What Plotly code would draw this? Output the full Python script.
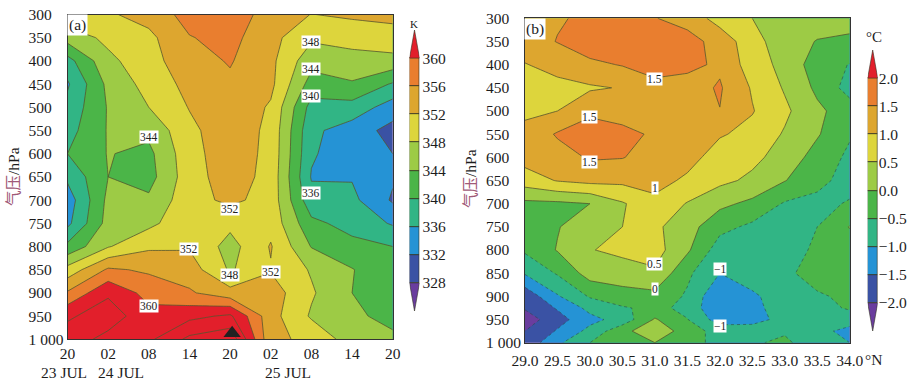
import plotly.graph_objects as go

W, H = 914, 383
SERIF = "Liberation Serif"
LINE = "#55552f"

# ---- panel (a): potential temperature, K, by time column
a_times = [0, 1, 2, 3, 4, 5, 6, 7, 8]
a_time_labels = ["20", "02", "08", "14", "20", "02", "08", "14", "20"]
a_pressure = [300, 350, 400, 450, 500, 550, 600, 650, 700, 750, 800, 850, 900, 950, 1000]
a_t0 = [351, 345.7, 338.5, 335.5, 337.2, 338.5, 340, 336.8, 333.8, 335, 341, 349.5, 356.5, 363.4, 366]
a_t1 = [351.5, 349, 347, 345, 344.3, 344.3, 344.2, 344, 345, 345.5, 347.7, 356.6, 363.4, 366, 362.8]
a_t2 = [353.5, 351, 350.5, 349.5, 348, 345, 343, 342.5, 344.7, 347, 351.3, 355.4, 358.5, 361.5, 363.2]
a_t3 = [357.5, 355.8, 354.5, 353.2, 352.2, 351, 350.6, 350.3, 350.5, 350.8, 351.6, 354, 356.5, 362.9, 369]
a_t4 = [358, 357.2, 356.3, 355.3, 355, 354.6, 354.3, 354, 352.9, 349, 346.5, 347.5, 353.5, 364.7, 371]
a_t5 = [354.5, 353.3, 353, 353, 351.5, 351, 350.9, 350.7, 350.5, 350.7, 352.3, 351.7, 354, 353.5, 353]
a_t6 = [351.9, 348.7, 345.4, 342.3, 338.5, 336.9, 336.5, 335.7, 337.3, 341, 343.8, 347.6, 348.5, 347.5, 351]
a_t7 = [352.8, 349, 347, 343.5, 338.5, 334, 333.4, 335.7, 337, 338.5, 341.2, 344.2, 344, 344.85, 346.1]
a_t8 = [353, 350.5, 346.7, 339.6, 334, 330.7, 332, 332.5, 331.5, 335.6, 340, 341, 342, 342.7, 344.9]
a_levels = [328, 332, 336, 340, 344, 348, 352, 356, 360]
a_labels = [("344", 2, 565), ("348", 6, 359), ("344", 6, 418), ("340", 6, 476), ("336", 6, 684),
            ("352", 4, 720), ("352", 3, 806), ("348", 4, 862), ("352", 5, 855), ("360", 2, 928)]

# ---- panel (b): temperature anomaly, deg C, by latitude column
b_lat = [29.0, 29.5, 30.0, 30.5, 31.0, 31.5, 32.0, 32.5, 33.0, 33.5, 34.0]
b_pressure = [300, 350, 400, 450, 500, 550, 600, 650, 700, 750, 800, 850, 900, 925, 950, 975, 1000]
b_c0 = [1.3, 1.25, .98, .8, .9, 1.15, 1.2, .75, -.12, -.25, -.42, -.95, -1.85, -1.95, -2.25, -2.0, -1.85]
b_c1 = [1.45, 1.52, 1.15, .87, 1.0, 1.55, 1.3, 1.03, -.1, -.03, .03, -.45, -1.05, -1.45, -1.7, -1.45, -1.1]
b_c2 = [1.6, 1.8, 1.39, .94, 1.4, 1.75, 1.55, 1.15, 0, .3, .47, .22, -.45, -.85, -1.15, -.85, -.5]
b_c3 = [1.75, 1.85, 1.53, 1.03, 1.35, 1.6, 1.52, 1.12, .45, .5, .65, .2, -.15, -.56, -.8, -.15, -.3]
b_c4 = [1.52, 1.85, 1.7, 1.35, 1.3, 1.45, 1.3, 1.2, .85, .6, .7, .42, -.15, -.35, .05, .35, 0]
b_c5 = [1.3, 1.7, 1.62, 1.3, 1.3, 1.3, 1.2, .9, .47, .2, .08, -.4, -.57, -.65, -.48, -.25, -.35]
b_c6 = [.8, 1.3, 1.42, 1.55, 1.49, 1.05, .75, .62, .12, -.35, -.75, -1.0, -1.45, -1.48, -1.25, -.7, -.62]
b_c7 = [.5, .7, .75, .95, 1.03, .85, .62, .4, -.12, -.6, -.8, -.85, -1.05, -1.12, -1.25, -.65, -.55]
b_c8 = [.2, .2, .35, .45, .6, .45, .3, .02, -.55, -.75, -.8, -.7, -.85, -.8, -.78, -.55, -.42]
b_c9 = [.2, -.02, -.25, -.1, .1, .05, -.2, -.35, -.65, -.5, -.38, -.1, -.62, -.75, -.8, -.9, -.75]
b_c10 = [.1, -.05, -.52, -.7, -.25, -.45, -.6, -.7, -.45, .02, -.2, -.25, -.3, -.42, -.85, -1.1, -1.0]
b_levels = [-2.0, -1.5, -1.0, -0.5, 0.0, 0.5, 1.0, 1.5, 2.0]
b_level_text = ["\u22122.0", "\u22121.5", "\u22121.0", "\u22120.5", "0.0", "0.5", "1.0", "1.5", "2.0"]
b_labels = [("1.5", 31.0, 431), ("1.5", 30.0, 514), ("1.5", 30.0, 611), ("1", 31.0, 667),
            ("0.5", 31.0, 831), ("0", 31.0, 885), ("\u22121", 32.0, 842), ("\u22121", 32.0, 965)]

band_colors = ["#6A3D9E", "#3A52A4", "#2593D5", "#31B585", "#4BB548",
               "#9DCB45", "#DDD53C", "#DDA62F", "#E97E2F", "#E21F2B"]
pressure_ticks = [300, 350, 400, 450, 500, 550, 600, 650, 700, 750, 800, 850, 900, 950, 1000]
# three-digit labels line up at the left edge of "1 000", as in the reference
pressure_text = [str(p) + "\u00a0\u00a0\u00a0" if p < 1000 else "1 000" for p in pressure_ticks]


def transpose(cols):
    return [list(r) for r in zip(*cols)]


scale = [[i / 9, c] for i, c in enumerate(band_colors)]
a_z = transpose([a_t0, a_t1, a_t2, a_t3, a_t4, a_t5, a_t6, a_t7, a_t8])
b_z = transpose([b_c0, b_c1, b_c2, b_c3, b_c4, b_c5, b_c6, b_c7, b_c8, b_c9, b_c10])


def px(x):
    return x / W


def py(y):
    return 1 - y / H


fig = go.Figure()

# panel a
fig.add_trace(go.Contour(x=a_times, y=a_pressure, z=a_z, xaxis="x", yaxis="y", showscale=False,
                         colorscale=scale, autocontour=False,
                         contours=dict(start=328, end=360, size=4, coloring="fill"),
                         line=dict(width=0, smoothing=0), hoverinfo="skip"))
fig.add_trace(go.Contour(x=a_times, y=a_pressure, z=a_z, xaxis="x", yaxis="y", showscale=False,
                         autocontour=False, colorscale=[[0, LINE], [1, LINE]],
                         contours=dict(start=328, end=368, size=4, coloring="none"),
                         line=dict(color=LINE, width=0.8, smoothing=0), hoverinfo="skip"))

# panel b
fig.add_trace(go.Contour(x=b_lat, y=b_pressure, z=b_z, xaxis="x2", yaxis="y2", showscale=False,
                         colorscale=scale, autocontour=False,
                         contours=dict(start=-2, end=2, size=0.5, coloring="fill"),
                         line=dict(width=0, smoothing=0), hoverinfo="skip"))
fig.add_trace(go.Contour(x=b_lat, y=b_pressure, z=b_z, xaxis="x2", yaxis="y2", showscale=False,
                         autocontour=False, colorscale=[[0, LINE], [1, LINE]],
                         contours=dict(start=0, end=2, size=0.5, coloring="none"),
                         line=dict(color=LINE, width=0.8, smoothing=0), hoverinfo="skip"))
fig.add_trace(go.Contour(x=b_lat, y=b_pressure, z=b_z, xaxis="x2", yaxis="y2", showscale=False,
                         autocontour=False, colorscale=[[0, "#2d4a4a"], [1, "#2d4a4a"]],
                         contours=dict(start=-2, end=-0.5, size=0.5, coloring="none"),
                         line=dict(color="#2d4a4a", width=0.6, dash="dot", smoothing=0), hoverinfo="skip"))

# triangle marker on panel a
fig.add_trace(go.Scatter(x=[4.05], y=[987], xaxis="x", yaxis="y", mode="markers", cliponaxis=False,
                         marker=dict(symbol="triangle-up", size=15, color="#222222"), hoverinfo="skip"))


def add_bar(levels, xa, ya):
    step = levels[1] - levels[0]
    fig.add_trace(go.Bar(x=[0] * (len(levels) - 1), y=[step] * (len(levels) - 1), base=levels[:-1],
                         width=1, xaxis=xa, yaxis=ya, hoverinfo="skip",
                         marker=dict(color=band_colors[1:-1], line=dict(color="#333322", width=0.8))))
    fig.add_trace(go.Scatter(x=[-.5, 0, .5, -.5], y=[levels[0], levels[0] - step, levels[0], levels[0]],
                             xaxis=xa, yaxis=ya, mode="lines", fill="toself", fillcolor=band_colors[0],
                             line=dict(color="#333322", width=0.6), hoverinfo="skip"))
    fig.add_trace(go.Scatter(x=[-.5, 0, .5, -.5], y=[levels[-1], levels[-1] + step, levels[-1], levels[-1]],
                             xaxis=xa, yaxis=ya, mode="lines", fill="toself", fillcolor=band_colors[-1],
                             line=dict(color="#333322", width=0.6), hoverinfo="skip"))


add_bar(a_levels, "x3", "y3")
add_bar(b_levels, "x4", "y4")

tick_font = dict(family=SERIF, size=15.5, color="#1c1c1c")
frame = dict(showline=True, linecolor="#333333", linewidth=1, mirror=True, showgrid=False,
             zeroline=False, ticks="", tickfont=tick_font, tickangle=0, automargin=False)

AX = (67.5, 392.7, 14.5, 339.3)
BX = (525, 849.7, 18.3, 342.7)

fig.update_layout(
    template="none",
    width=W, height=H, autosize=False, showlegend=False, paper_bgcolor="white", plot_bgcolor="white",
    margin=dict(l=0, r=0, t=0, b=0, autoexpand=False), barmode="overlay", bargap=0,
    xaxis=dict(domain=[px(AX[0]), px(AX[1])], range=[0, 8], tickvals=a_times, ticktext=a_time_labels,
               anchor="y", **frame),
    yaxis=dict(domain=[py(AX[3]), py(AX[2])], range=[1000, 300], tickvals=pressure_ticks,
               ticktext=pressure_text, anchor="x", **frame),
    xaxis2=dict(domain=[px(BX[0]), px(BX[1])], range=[29, 34], tickvals=b_lat,
                ticktext=[f"{v:.1f}" for v in b_lat], anchor="y2", ticklabelstandoff=4, **frame),
    yaxis2=dict(domain=[py(BX[3]), py(BX[2])], range=[1000, 300], tickvals=pressure_ticks,
                ticktext=pressure_text, anchor="x2", **frame),
    xaxis3=dict(domain=[px(409.5), px(419.5)], range=[-.5, .5], visible=False, anchor="y3"),
    yaxis3=dict(domain=[py(311), py(30)], range=[324, 364], side="right", anchor="x3",
                tickvals=a_levels, ticktext=[str(v) for v in a_levels], showgrid=False, zeroline=False,
                showline=False, ticks="", tickfont=tick_font, automargin=False, ticklabelstandoff=2),
    xaxis4=dict(domain=[px(867.7), px(877.7)], range=[-.5, .5], visible=False, anchor="y4"),
    yaxis4=dict(domain=[py(331), py(50)], range=[-2.5, 2.5], side="right", anchor="x4",
                tickvals=b_levels, ticktext=b_level_text, showgrid=False, zeroline=False,
                showline=False, ticks="", tickfont=tick_font, automargin=False),
)

ann = []
label_font = dict(family=SERIF, size=11.5, color="#222222")
for text, x, p in a_labels:
    ann.append(dict(x=x, y=p, xref="x", yref="y", text=text, showarrow=False, font=label_font,
                    bgcolor="white", borderpad=0))
for text, x, p in b_labels:
    ann.append(dict(x=x, y=p, xref="x2", yref="y2", text=text, showarrow=False, font=label_font,
                    bgcolor="white", borderpad=0))


def paper_text(x, y, text, size=15.5, **kw):
    ann.append(dict(x=px(x), y=py(y), xref="paper", yref="paper", text=text, showarrow=False,
                    xanchor="center", yanchor="middle",
                    font=dict(family=SERIF + ", Noto Sans CJK SC", size=size, color="#1c1c1c"), **kw))


paper_text(77, 25, "(a)", bgcolor="white", borderpad=1)
paper_text(535, 29, "(b)", bgcolor="white", borderpad=1)
paper_text(64, 372, "23 JUL")
paper_text(121, 372, "24 JUL")
paper_text(288, 372, "25 JUL")
paper_text(414, 24, "K", size=11)
paper_text(874, 37, "\u00b0C", size=15)
paper_text(873, 359, "\u00b0N")
ylab = "<span style='color:#a05a78'>\u6c14\u538b</span>/hPa"
paper_text(13, 177, ylab, textangle=-90)
paper_text(470, 179, ylab, textangle=-90)
fig.update_layout(annotations=ann)

fig.write_html("out.html", config={"displayModeBar": False},
               post_script="document.body.style.margin='0';")
